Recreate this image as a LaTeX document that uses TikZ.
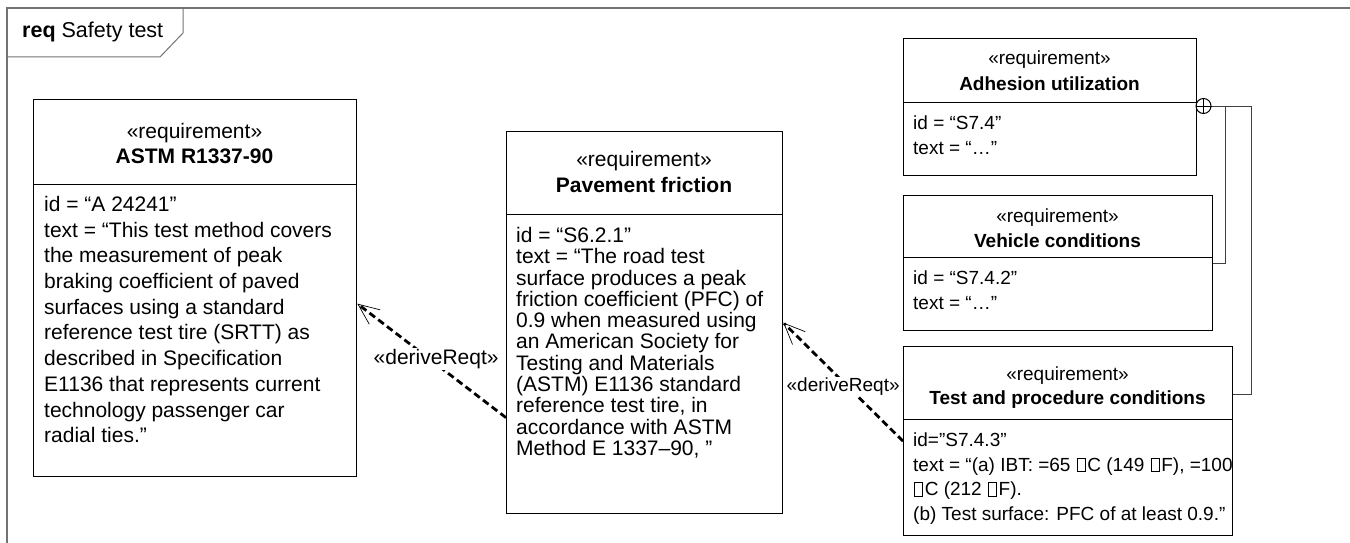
\documentclass[tikz,border=0pt]{standalone}
\usepackage{fontspec}
\setmainfont{Liberation Sans}
\usetikzlibrary{arrows.meta}
\newcommand{\nochar}{\kern1pt{\fboxsep=0pt\fboxrule=0.5pt\fbox{\rule{0pt}{0.7em}\kern0.4em}}\kern2pt}
\begin{document}
\begin{tikzpicture}[x=1pt,y=-1pt,
    frame/.style={draw=black!55, line width=1.5pt},
    reqbox/.style={draw, line width=1.3pt, anchor=north west, inner sep=0pt},
    divider/.style={line width=1pt},
    hdr/.style={anchor=base, inner sep=0pt},
    body/.style={anchor=north west, align=left, inner sep=0pt},
    lbl/.style={fill=white, inner sep=1pt},
    derive/.style={line width=2.8pt, dash pattern=on 7pt off 4pt,
      -{Straight Barb[length=21pt, width=18pt, line width=0.7pt]}},
    own/.style={black!75, line width=1pt}]
  \useasboundingbox (0,0) rectangle (1350,543);

  % Frame
  \draw[frame] (1360,8) -- (7,8) -- (7,560);
  \draw[frame, line width=1pt] (7,57) -- (160,57) -- (183,33) -- (183,8);
  \node[hdr, anchor=base west, font=\fontsize{21.5}{25}\selectfont] (title) at (22,38) {\textbf{req} Safety test};

  % ASTM R1337-90
  \node[reqbox, minimum width=323pt, minimum height=377pt] (astm) at (33,99) {};
  \draw[divider] ([yshift=-85pt]astm.north west) -- ([yshift=-85pt]astm.north east);
  \node[hdr, font=\fontsize{21}{25}\selectfont] (astmst) at (194.5,138) {«requirement»};
  \node[hdr, font=\fontsize{21}{25}\selectfont\bfseries] (astmname) at (194.5,163) {ASTM R1337-90};
  \node[body, font=\fontsize{21}{25.7}\selectfont] (astmtxt) at (44,196) {id = “A 24241”\\
    text = “This test method covers\\
    the measurement of peak\\
    braking coefficient of paved\\
    surfaces using a standard\\
    reference test tire (SRTT) as\\
    described in Specification\\
    E1136 that represents current\\
    technology passenger car\\
    radial ties.”};

  % Pavement friction
  \node[reqbox, minimum width=276pt, minimum height=382pt] (pav) at (506,131) {};
  \draw[divider] ([yshift=-83pt]pav.north west) -- ([yshift=-83pt]pav.north east);
  \node[hdr, font=\fontsize{21}{25}\selectfont] (pavst) at (644,166) {«requirement»};
  \node[hdr, font=\fontsize{21}{25}\selectfont\bfseries] (pavname) at (644,192) {Pavement friction};
  \node[body, font=\fontsize{21}{21.3}\selectfont] (pavtxt) at (516,227) {id = “S6.2.1”\\
    text = “The road test\\
    surface produces a peak\\
    friction coefficient (PFC) of\\
    0.9 when measured using\\
    an American Society for\\
    Testing and Materials\\
    (ASTM) E1136 standard\\
    reference test tire, in\\
    accordance with ASTM\\
    Method E 1337–90, ”};

  % Adhesion utilization
  \node[reqbox, minimum width=293pt, minimum height=137pt] (adh) at (903,38) {};
  \draw[divider] ([yshift=-64pt]adh.north west) -- ([yshift=-64pt]adh.north east);
  \node[hdr, font=\fontsize{19}{23}\selectfont] (adhst) at (1049.5,65) {«requirement»};
  \node[hdr, font=\fontsize{19}{23}\selectfont\bfseries] (adhname) at (1049.5,90) {Adhesion utilization};
  \node[body, font=\fontsize{19}{25}\selectfont] (adhtxt) at (913,116) {id = “S7.4”\\text = “…”};

  % Vehicle conditions
  \node[reqbox, minimum width=309pt, minimum height=135pt] (veh) at (903,195) {};
  \draw[divider] ([yshift=-62pt]veh.north west) -- ([yshift=-62pt]veh.north east);
  \node[hdr, font=\fontsize{19}{23}\selectfont] (vehst) at (1057.5,222) {«requirement»};
  \node[hdr, font=\fontsize{19}{23}\selectfont\bfseries] (vehname) at (1057.5,247) {Vehicle conditions};
  \node[body, font=\fontsize{19}{25}\selectfont] (vehtxt) at (913,271) {id = “S7.4.2”\\text = “…”};

  % Test and procedure conditions
  \node[reqbox, minimum width=329pt, minimum height=189pt] (test) at (903,346) {};
  \draw[divider] ([yshift=-73pt]test.north west) -- ([yshift=-73pt]test.north east);
  \node[hdr, font=\fontsize{19}{23}\selectfont] (testst) at (1067.5,380) {«requirement»};
  \node[hdr, font=\fontsize{19}{23}\selectfont\bfseries] (testname) at (1067.5,404) {Test and procedure conditions};
  \node[body, font=\fontsize{19}{24.4}\selectfont] (testtxt) at (913,433) {id=”S7.4.3"\\
    text = “(a) IBT: =65 \nochar C (149 \nochar F), =100\\
    \nochar C (212 \nochar F).\\
    (b) Test surface: PFC of at least 0.9.”};

  % Containment
  \node[draw, circle, minimum size=15pt, inner sep=0pt, line width=1pt] (cross) at (1203.5,106) {};
  \draw[line width=1pt] (cross.north) -- (cross.south) (cross.west) -- (cross.east);
  \coordinate (split) at (1225,106);
  \coordinate (corner) at (1251,106);
  \draw[own] (cross.east) -- (corner) |- ([yshift=-48pt]test.north east);
  \draw[own] (split) |- ([yshift=-68pt]veh.north east);

  % Derivations
  \draw[derive] ([yshift=-95pt]pav.west) -- ([yshift=-15.5pt]astm.east)
    node[lbl, pos=0.47, yshift=5pt, font=\fontsize{21}{25}\selectfont] (d1) {«deriveReqt»};
  \draw[derive] (test.west) -- (pav.east)
    node[lbl, pos=0.5, yshift=-4.5pt, font=\fontsize{19}{23}\selectfont] (d2) {«deriveReqt»};
\end{tikzpicture}
\end{document}
